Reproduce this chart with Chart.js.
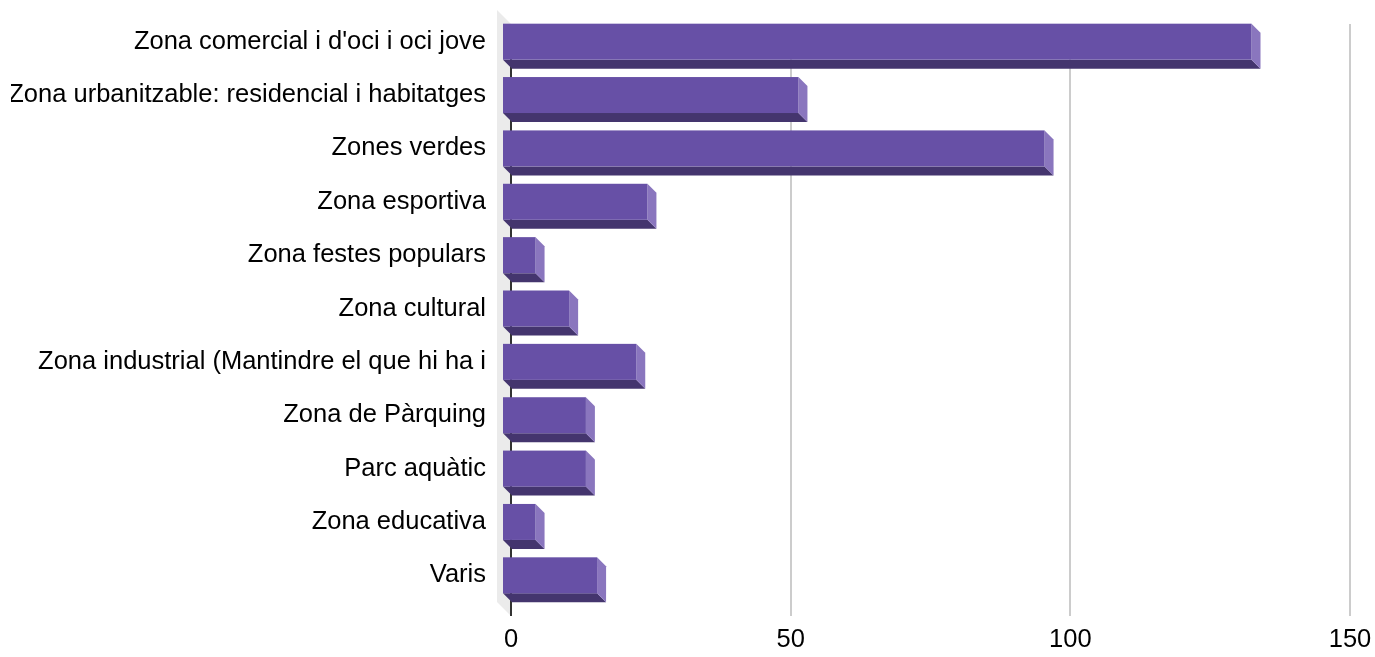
<!DOCTYPE html>
<html>
<head>
<meta charset="utf-8">
<script src="https://cdn.jsdelivr.net/npm/chart.js@4/dist/chart.umd.min.js"></script>
<style>
  html, body { margin: 0; padding: 0; background: #fff; }
  #wrap { width: 1375px; height: 657px; }
</style>
</head>
<body>
<div id="wrap"><canvas id="zonesChart"></canvas></div>
<script>
/** Zones bar chart (3D look) */

const categories = [
    'Zona comercial i d\'oci i oci jove',
    'Zona urbanitzable: residencial i habitatges',
    'Zones verdes',
    'Zona esportiva',
    'Zona festes populars',
    'Zona cultural',
    'Zona industrial (Mantindre el que hi ha i',
    'Zona de Pàrquing',
    'Parc aquàtic',
    'Zona educativa',
    'Varis'
];
const values = [134, 53, 97, 26, 6, 12, 24, 15, 15, 6, 17];
const xTicks = [0, 50, 100, 150];

const DEPTH = 9;
const colors = { front: '#6750a6', bottom: '#44356e', side: '#8a76be', wall: '#ebebeb' };

// left wall + 3D faces for every bar
const bars3d = {
    id: 'bars3d',
    beforeDraw(chart) {
        const { ctx, chartArea } = chart;
        const x0 = chart.scales.x.getPixelForValue(0);
        const d = 14;
        ctx.save();
        ctx.fillStyle = colors.wall;
        ctx.beginPath();
        ctx.moveTo(x0 - d, chartArea.top - d);
        ctx.lineTo(x0, chartArea.top);
        ctx.lineTo(x0, chartArea.bottom + 5);
        ctx.lineTo(x0 - d, chartArea.bottom + 5 - d);
        ctx.closePath();
        ctx.fill();
        ctx.restore();
    },
    afterDatasetsDraw(chart) {
        const { ctx } = chart;
        const meta = chart.getDatasetMeta(0);
        ctx.save();
        meta.data.forEach(bar => {
            const { x, y, base, height } = bar.getProps(['x', 'y', 'base', 'height'], true);
            const top = y - height / 2 - DEPTH;
            const bot = y + height / 2 - DEPTH;
            const fl = base - DEPTH, fr = x - DEPTH;

            ctx.fillStyle = colors.bottom;
            ctx.beginPath();
            ctx.moveTo(fl, bot);
            ctx.lineTo(fr, bot);
            ctx.lineTo(x, bot + DEPTH);
            ctx.lineTo(base, bot + DEPTH);
            ctx.closePath();
            ctx.fill();

            ctx.fillStyle = colors.side;
            ctx.beginPath();
            ctx.moveTo(fr, top);
            ctx.lineTo(x, top + DEPTH);
            ctx.lineTo(x, bot + DEPTH);
            ctx.lineTo(fr, bot);
            ctx.closePath();
            ctx.fill();

            ctx.fillStyle = colors.front;
            ctx.fillRect(fl, top, fr - fl, bot - top);
        });
        ctx.restore();
    }
};

const font = { family: '"Liberation Sans", Arial, sans-serif', size: 25.5 };

new Chart(document.getElementById('zonesChart'), {
    type: 'bar',
    data: {
        labels: categories,
        datasets: [{
            data: values,
            backgroundColor: 'rgba(0,0,0,0)',
            borderWidth: 0,
            barThickness: 36
        }]
    },
    options: {
        indexAxis: 'y',
        responsive: true,
        maintainAspectRatio: false,
        animation: false,
        layout: { padding: { top: 24, left: 11, right: 25, bottom: 0 } },
        plugins: { legend: { display: false }, tooltip: { enabled: false } },
        scales: {
            x: {
                min: 0,
                max: 150,
                afterBuildTicks: scale => { scale.ticks = xTicks.map(v => ({ value: v })); },
                afterFit: scale => {
                    scale.height = 46;
                    scale.paddingRight = 25;
                },
                grid: {
                    color: c => (c.tick && c.tick.value === 0 ? '#333333' : '#cccccc'),
                    lineWidth: 2,
                    tickLength: 5
                },
                border: { display: false },
                ticks: { color: '#000', font, padding: 9, maxRotation: 0 }
            },
            y: {
                afterFit: scale => { scale.width = 500; },
                grid: { display: false, drawTicks: true, tickLength: 25 },
                border: { display: false },
                ticks: { color: '#000', font, padding: 0, labelOffset: -DEPTH, autoSkip: false }
            }
        }
    },
    plugins: [bars3d]
});
</script>
</body>
</html>
